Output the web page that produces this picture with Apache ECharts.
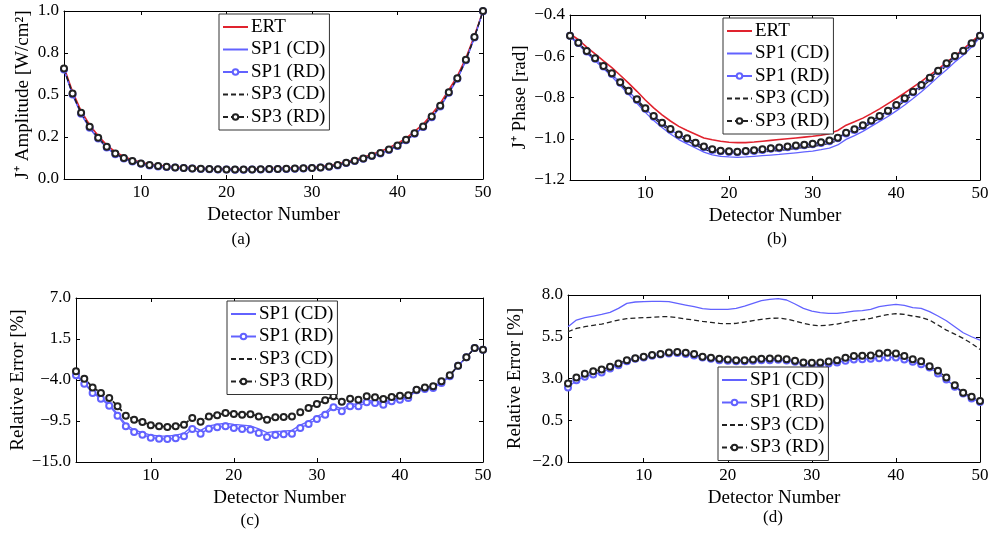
<!DOCTYPE html>
<html><head><meta charset="utf-8">
<script src="https://cdn.jsdelivr.net/npm/echarts@6/dist/echarts.min.js"></script>
<style>html,body{margin:0;padding:0;background:#fff}#c{width:994px;height:543px}</style>
</head><body><div id="c"></div>
<script>
const detectors = [1,2,3,4,5,6,7,8,9,10,11,12,13,14,15,16,17,18,19,20,21,22,23,24,25,26,27,28,29,30,31,32,33,34,35,36,37,38,39,40,41,42,43,44,45,46,47,48,49,50];
const xTicks = [10,20,30,40,50];

// (a) J+ amplitude
const ampTicks = [0,0.25,0.5,0.75,1.0];
const ampTickLabels = ['0.0','0.2','0.5','0.8','1.0'];
const ampERT   = [0.665,0.520,0.405,0.322,0.257,0.202,0.162,0.133,0.114,0.099,0.088,0.081,0.076,0.072,0.069,0.066,0.064,0.062,0.061,0.060,0.059,0.059,0.060,0.061,0.062,0.063,0.064,0.066,0.068,0.070,0.074,0.080,0.089,0.103,0.116,0.130,0.147,0.164,0.186,0.211,0.244,0.284,0.326,0.386,0.450,0.530,0.612,0.720,0.852,1.000];
const ampSP1CD = [0.650,0.500,0.385,0.302,0.238,0.185,0.146,0.120,0.103,0.090,0.080,0.074,0.070,0.067,0.064,0.061,0.059,0.057,0.056,0.055,0.054,0.054,0.055,0.056,0.057,0.058,0.059,0.060,0.062,0.064,0.067,0.072,0.080,0.094,0.106,0.118,0.135,0.150,0.171,0.195,0.227,0.266,0.306,0.365,0.428,0.510,0.594,0.704,0.840,0.998];
const ampSP1RD = [0.652,0.503,0.388,0.305,0.241,0.188,0.148,0.122,0.104,0.091,0.081,0.075,0.071,0.068,0.065,0.062,0.060,0.058,0.057,0.056,0.055,0.055,0.056,0.057,0.058,0.059,0.060,0.061,0.063,0.065,0.068,0.073,0.081,0.095,0.107,0.120,0.137,0.152,0.173,0.197,0.230,0.269,0.309,0.368,0.432,0.513,0.597,0.707,0.842,0.999];
const ampSP3CD = [0.655,0.507,0.392,0.309,0.244,0.190,0.150,0.124,0.106,0.092,0.082,0.076,0.072,0.068,0.065,0.062,0.060,0.058,0.057,0.056,0.055,0.055,0.056,0.057,0.058,0.059,0.060,0.061,0.063,0.065,0.068,0.074,0.082,0.096,0.108,0.121,0.138,0.154,0.175,0.199,0.232,0.271,0.312,0.371,0.435,0.516,0.599,0.709,0.844,1.000];
const ampSP3RD = [0.657,0.509,0.394,0.311,0.246,0.192,0.152,0.125,0.107,0.093,0.083,0.077,0.073,0.069,0.066,0.063,0.061,0.059,0.058,0.057,0.056,0.056,0.057,0.058,0.059,0.060,0.061,0.062,0.064,0.066,0.069,0.075,0.083,0.097,0.109,0.122,0.139,0.155,0.176,0.200,0.233,0.272,0.313,0.372,0.436,0.517,0.600,0.710,0.845,1.000];

// (b) J+ phase
const phTicks = [-1.2,-1.0,-0.8,-0.6,-0.4];
const phTickLabels = ['\u22121.2','\u22121.0','\u22120.8','\u22120.6','\u22120.4'];
const phERT   = [-0.490,-0.520,-0.556,-0.588,-0.622,-0.655,-0.692,-0.730,-0.770,-0.812,-0.850,-0.884,-0.914,-0.940,-0.960,-0.978,-0.996,-1.005,-1.012,-1.017,-1.019,-1.019,-1.016,-1.012,-1.008,-1.004,-1.000,-0.996,-0.992,-0.988,-0.983,-0.975,-0.960,-0.934,-0.918,-0.900,-0.878,-0.855,-0.830,-0.805,-0.778,-0.750,-0.722,-0.692,-0.662,-0.630,-0.598,-0.565,-0.530,-0.495];
const phSP1CD = [-0.505,-0.542,-0.585,-0.622,-0.660,-0.698,-0.742,-0.785,-0.828,-0.872,-0.912,-0.945,-0.977,-1.004,-1.025,-1.045,-1.065,-1.078,-1.085,-1.088,-1.090,-1.088,-1.085,-1.082,-1.079,-1.076,-1.072,-1.068,-1.064,-1.060,-1.053,-1.045,-1.030,-1.003,-0.985,-0.964,-0.940,-0.916,-0.892,-0.865,-0.836,-0.805,-0.772,-0.737,-0.700,-0.665,-0.628,-0.595,-0.555,-0.508];
const phSP1RD = [-0.501,-0.536,-0.577,-0.612,-0.650,-0.686,-0.729,-0.770,-0.812,-0.855,-0.893,-0.925,-0.956,-0.982,-1.001,-1.022,-1.041,-1.054,-1.061,-1.064,-1.066,-1.062,-1.059,-1.054,-1.049,-1.046,-1.041,-1.036,-1.032,-1.027,-1.020,-1.012,-0.998,-0.974,-0.957,-0.938,-0.915,-0.893,-0.867,-0.839,-0.807,-0.775,-0.742,-0.707,-0.673,-0.637,-0.602,-0.575,-0.539,-0.501];
const phSP3CD = [-0.502,-0.538,-0.580,-0.616,-0.654,-0.691,-0.734,-0.776,-0.818,-0.862,-0.900,-0.933,-0.964,-0.990,-1.010,-1.031,-1.051,-1.064,-1.071,-1.074,-1.075,-1.072,-1.069,-1.065,-1.060,-1.057,-1.052,-1.047,-1.043,-1.038,-1.031,-1.022,-1.009,-0.983,-0.966,-0.947,-0.924,-0.902,-0.876,-0.848,-0.817,-0.785,-0.752,-0.717,-0.682,-0.646,-0.610,-0.582,-0.545,-0.503];
const phSP3RD = [-0.500,-0.534,-0.575,-0.610,-0.647,-0.683,-0.726,-0.767,-0.809,-0.852,-0.890,-0.922,-0.953,-0.979,-0.998,-1.019,-1.038,-1.051,-1.058,-1.061,-1.063,-1.059,-1.056,-1.051,-1.046,-1.043,-1.038,-1.033,-1.029,-1.024,-1.017,-1.009,-0.995,-0.971,-0.954,-0.935,-0.912,-0.890,-0.864,-0.836,-0.804,-0.772,-0.739,-0.704,-0.670,-0.634,-0.599,-0.573,-0.537,-0.500];

// (c) relative error of amplitude [%]
const errCTicks = [-15,-9.5,-4,1.5,7];
const errCTickLabels = ['\u221215.0','\u22129.5','\u22124.0','1.5','7.0'];
const errCSP1CD = [-3.30,-4.40,-5.60,-6.35,-7.25,-8.55,-9.95,-10.70,-11.05,-11.40,-11.50,-11.52,-11.40,-11.15,-10.20,-10.75,-10.15,-9.95,-9.80,-9.95,-10.05,-10.15,-10.55,-11.05,-10.90,-10.85,-10.75,-10.05,-9.55,-8.90,-8.35,-7.40,-7.90,-7.25,-7.20,-6.75,-6.85,-7.05,-6.65,-6.45,-6.25,-5.30,-5.12,-4.98,-4.32,-3.45,-2.05,-0.95,0.30,0.07];
const errCSP1RD = [-3.37,-4.49,-5.74,-6.51,-7.44,-8.79,-10.22,-10.98,-11.34,-11.74,-11.87,-11.92,-11.83,-11.56,-10.58,-11.20,-10.53,-10.35,-10.22,-10.44,-10.58,-10.66,-11.11,-11.65,-11.38,-11.29,-11.20,-10.44,-9.90,-9.23,-8.65,-7.67,-8.20,-7.53,-7.53,-7.00,-7.09,-7.31,-6.86,-6.64,-6.42,-5.39,-5.21,-5.07,-4.40,-3.51,-2.08,-0.96,0.29,0.07];
const errCSP3CD = [-2.80,-3.78,-4.92,-5.68,-6.36,-7.45,-8.70,-9.25,-9.58,-10.02,-10.16,-10.25,-10.16,-9.93,-9.05,-9.54,-8.83,-8.69,-8.39,-8.51,-8.60,-8.57,-8.83,-9.27,-8.96,-8.92,-8.84,-8.30,-7.72,-7.18,-6.69,-6.16,-6.87,-6.48,-6.60,-6.16,-6.30,-6.52,-6.25,-6.07,-6.03,-5.28,-4.97,-4.83,-4.16,-3.35,-2.07,-0.95,0.29,0.07];
const errCSP3RD = [-2.84,-3.82,-4.99,-5.74,-6.42,-7.53,-8.79,-9.32,-9.64,-10.08,-10.22,-10.31,-10.22,-9.99,-9.10,-9.59,-8.88,-8.74,-8.43,-8.56,-8.65,-8.61,-8.88,-9.32,-9.01,-8.96,-8.88,-8.34,-7.76,-7.22,-6.73,-6.19,-6.91,-6.51,-6.64,-6.19,-6.33,-6.55,-6.28,-6.10,-6.06,-5.30,-4.99,-4.85,-4.18,-3.37,-2.08,-0.96,0.29,0.07];

// (d) relative error of phase [%]
const errDTicks = [-2,0.5,3,5.5,8];
const errDTickLabels = ['\u22122.0','0.5','3.0','5.5','8.0'];
const errDSP1CD = [6.10,6.50,6.64,6.74,6.84,6.96,7.20,7.50,7.58,7.60,7.62,7.62,7.60,7.50,7.40,7.30,7.18,7.14,7.14,7.14,7.20,7.34,7.50,7.66,7.74,7.78,7.70,7.46,7.20,7.04,6.94,6.90,6.90,6.96,7.04,7.06,7.14,7.30,7.38,7.44,7.38,7.24,7.20,7.00,6.74,6.46,6.10,5.74,5.50,5.30];
const errDSP1RD = [2.46,2.90,3.10,3.24,3.36,3.60,3.80,4.04,4.18,4.26,4.36,4.44,4.50,4.52,4.46,4.38,4.26,4.18,4.10,4.06,4.04,4.04,4.06,4.10,4.10,4.12,4.08,4.00,3.92,3.86,3.86,3.90,3.96,4.06,4.14,4.16,4.18,4.22,4.26,4.26,4.14,4.00,3.86,3.66,3.30,2.94,2.50,2.10,1.80,1.60];
const errDSP3CD = [5.80,6.00,6.10,6.18,6.26,6.38,6.50,6.58,6.62,6.64,6.66,6.70,6.70,6.64,6.56,6.50,6.42,6.36,6.30,6.28,6.30,6.38,6.46,6.54,6.60,6.62,6.56,6.44,6.30,6.20,6.16,6.20,6.26,6.36,6.46,6.52,6.60,6.72,6.82,6.88,6.84,6.74,6.66,6.50,6.20,5.90,5.66,5.40,5.10,4.74];
const errDSP3RD = [2.70,3.06,3.28,3.44,3.54,3.70,3.90,4.10,4.22,4.30,4.40,4.46,4.56,4.58,4.54,4.46,4.30,4.24,4.18,4.14,4.10,4.10,4.14,4.18,4.20,4.20,4.16,4.06,3.96,3.94,3.96,4.02,4.10,4.24,4.34,4.36,4.38,4.50,4.54,4.50,4.34,4.16,4.04,3.74,3.46,3.06,2.60,2.14,1.90,1.66];

const FONT = '"Liberation Serif","Times New Roman",serif';
const RED = '#e0232e', BLUE = '#6262ff', BLACK = '#222';

const grids = [
  {left:64, top:11, width:419, height:168},
  {left:570, top:15, width:410, height:165},
  {left:76, top:298, width:407, height:164},
  {left:568, top:295, width:412, height:167}
];
const yConf = [
  {name:'J\u207A Amplitude [W/cm\u00B2]', min:0, max:1, ticks:ampTicks, labels:ampTickLabels, gap:31},
  {name:'J\u207A Phase [rad]', min:-1.2, max:-0.4, ticks:phTicks, labels:phTickLabels, gap:40},
  {name:'Relative Error [%]', min:-15, max:7, ticks:errCTicks, labels:errCTickLabels, gap:48},
  {name:'Relative Error [%]', min:-2, max:8, ticks:errDTicks, labels:errDTickLabels, gap:43}
];

const xAxes = [], yAxes = [];
grids.forEach((g, i) => {
  xAxes.push({
    type:'value', gridIndex:i, min:1, max:50, position:'bottom',
    name:'Detector Number', nameLocation:'middle', nameGap:27,
    nameTextStyle:{fontFamily:FONT, fontSize:19, color:'#000'},
    axisLine:{show:true, onZero:false, lineStyle:{color:'#000', width:1}},
    axisTick:{show:true, inside:true, length:4, customValues:xTicks, lineStyle:{color:'#000'}},
    axisLabel:{show:true, customValues:xTicks, margin:5, fontFamily:FONT, fontSize:17, color:'#000'},
    splitLine:{show:false}
  });
  xAxes.push({
    type:'value', gridIndex:i, min:1, max:50, position:'top',
    axisLine:{show:true, onZero:false, lineStyle:{color:'#000', width:1}},
    axisTick:{show:true, inside:true, length:4, customValues:xTicks, lineStyle:{color:'#000'}},
    axisLabel:{show:false}, splitLine:{show:false}
  });
  const yc = yConf[i];
  yAxes.push({
    type:'value', gridIndex:i, min:yc.min, max:yc.max, position:'left',
    name:yc.name, nameLocation:'middle', nameGap:yc.gap, nameRotate:90,
    nameTextStyle:{fontFamily:FONT, fontSize:19, color:'#000'},
    axisLine:{show:true, onZero:false, lineStyle:{color:'#000', width:1}},
    axisTick:{show:true, inside:true, length:4, customValues:yc.ticks, lineStyle:{color:'#000'}},
    axisLabel:{show:true, customValues:yc.ticks, margin:5, fontFamily:FONT, fontSize:17, color:'#000',
      formatter:(v)=>{ let k=-1; yc.ticks.forEach((t,j)=>{ if (Math.abs(t-v)<1e-9) k=j; }); return k>=0 ? yc.labels[k] : ''; }},
    splitLine:{show:false}
  });
  yAxes.push({
    type:'value', gridIndex:i, min:yc.min, max:yc.max, position:'right',
    axisLine:{show:true, onZero:false, lineStyle:{color:'#000', width:1}},
    axisTick:{show:true, inside:true, length:4, customValues:yc.ticks, lineStyle:{color:'#000'}},
    axisLabel:{show:false}, splitLine:{show:false}
  });
});

function pts(vals){ return detectors.map((d,k)=>[d, vals[k]]); }
function mk(name, vals, gi, style){
  return {
    name, type:'line', xAxisIndex:2*gi, yAxisIndex:2*gi, data:pts(vals),
    lineStyle:{color:style.color, width:style.width||1.3, type:style.dash?[5,3]:'solid'},
    itemStyle:{color:style.color, borderColor:style.color, borderWidth:1, opacity: style.marker ? 1 : 0},
    symbol: style.marker ? 'emptyCircle' : 'none',
    symbolSize: 6, showSymbol: !!style.marker, silent:true
  };
}
const stERT = {color:RED, width:1.6};
const stSP1CD = {color:BLUE};
const stSP1RD = {color:BLUE, marker:true};
const stSP3CD = {color:BLACK, dash:true};
const stSP3RD = {color:BLACK, dash:true, marker:true};

const series = [
  mk('ERT', ampERT, 0, stERT),
  mk('SP1 (CD)', ampSP1CD, 0, stSP1CD),
  mk('SP1 (RD)', ampSP1RD, 0, stSP1RD),
  mk('SP3 (CD)', ampSP3CD, 0, stSP3CD),
  mk('SP3 (RD)', ampSP3RD, 0, stSP3RD),
  mk('ERT', phERT, 1, stERT),
  mk('SP1 (CD)', phSP1CD, 1, stSP1CD),
  mk('SP1 (RD)', phSP1RD, 1, stSP1RD),
  mk('SP3 (CD)', phSP3CD, 1, stSP3CD),
  mk('SP3 (RD)', phSP3RD, 1, stSP3RD),
  mk('SP1 (CD)', errCSP1CD, 2, stSP1CD),
  mk('SP1 (RD)', errCSP1RD, 2, stSP1RD),
  mk('SP3 (CD)', errCSP3CD, 2, stSP3CD),
  mk('SP3 (RD)', errCSP3RD, 2, stSP3RD),
  mk('SP1 (CD)', errDSP1CD, 3, stSP1CD),
  mk('SP1 (RD)', errDSP1RD, 3, stSP1RD),
  mk('SP3 (CD)', errDSP3CD, 3, stSP3CD),
  mk('SP3 (RD)', errDSP3RD, 3, stSP3RD)
];

function legend(names, left, top){
  return {
    data:names, orient:'vertical', left, top, selectedMode:false,
    backgroundColor:'#fff', borderColor:'#333', borderWidth:1,
    padding:[3,4,3,3], itemGap:2.5, itemWidth:25, itemHeight:7,
    textStyle:{fontFamily:FONT, fontSize:19, color:'#000', lineHeight:20, padding:[0,0,0,-2]},
    z:10
  };
}
const names5 = ['ERT','SP1 (CD)','SP1 (RD)','SP3 (CD)','SP3 (RD)'];
const names4 = ['SP1 (CD)','SP1 (RD)','SP3 (CD)','SP3 (RD)'];

const captions = [['(a)',241,240],['(b)',777,240],['(c)',250,521],['(d)',773,518]];

const chart = echarts.init(document.getElementById('c'), null, {renderer:'canvas'});
chart.setOption({
  animation:false,
  backgroundColor:'#fff',
  grid:grids.map(g=>Object.assign({containLabel:false}, g)),
  xAxis:xAxes, yAxis:yAxes,
  legend:[legend(names5,219,14), legend(names5,723,18), legend(names4,227,301), legend(names4,718,367)],
  graphic:captions.map(c=>({type:'text', x:c[1], y:c[2], style:{text:c[0], font:'17px '+FONT, fill:'#000', textAlign:'center', textVerticalAlign:'middle'}})),
  series
});
</script></body></html>
